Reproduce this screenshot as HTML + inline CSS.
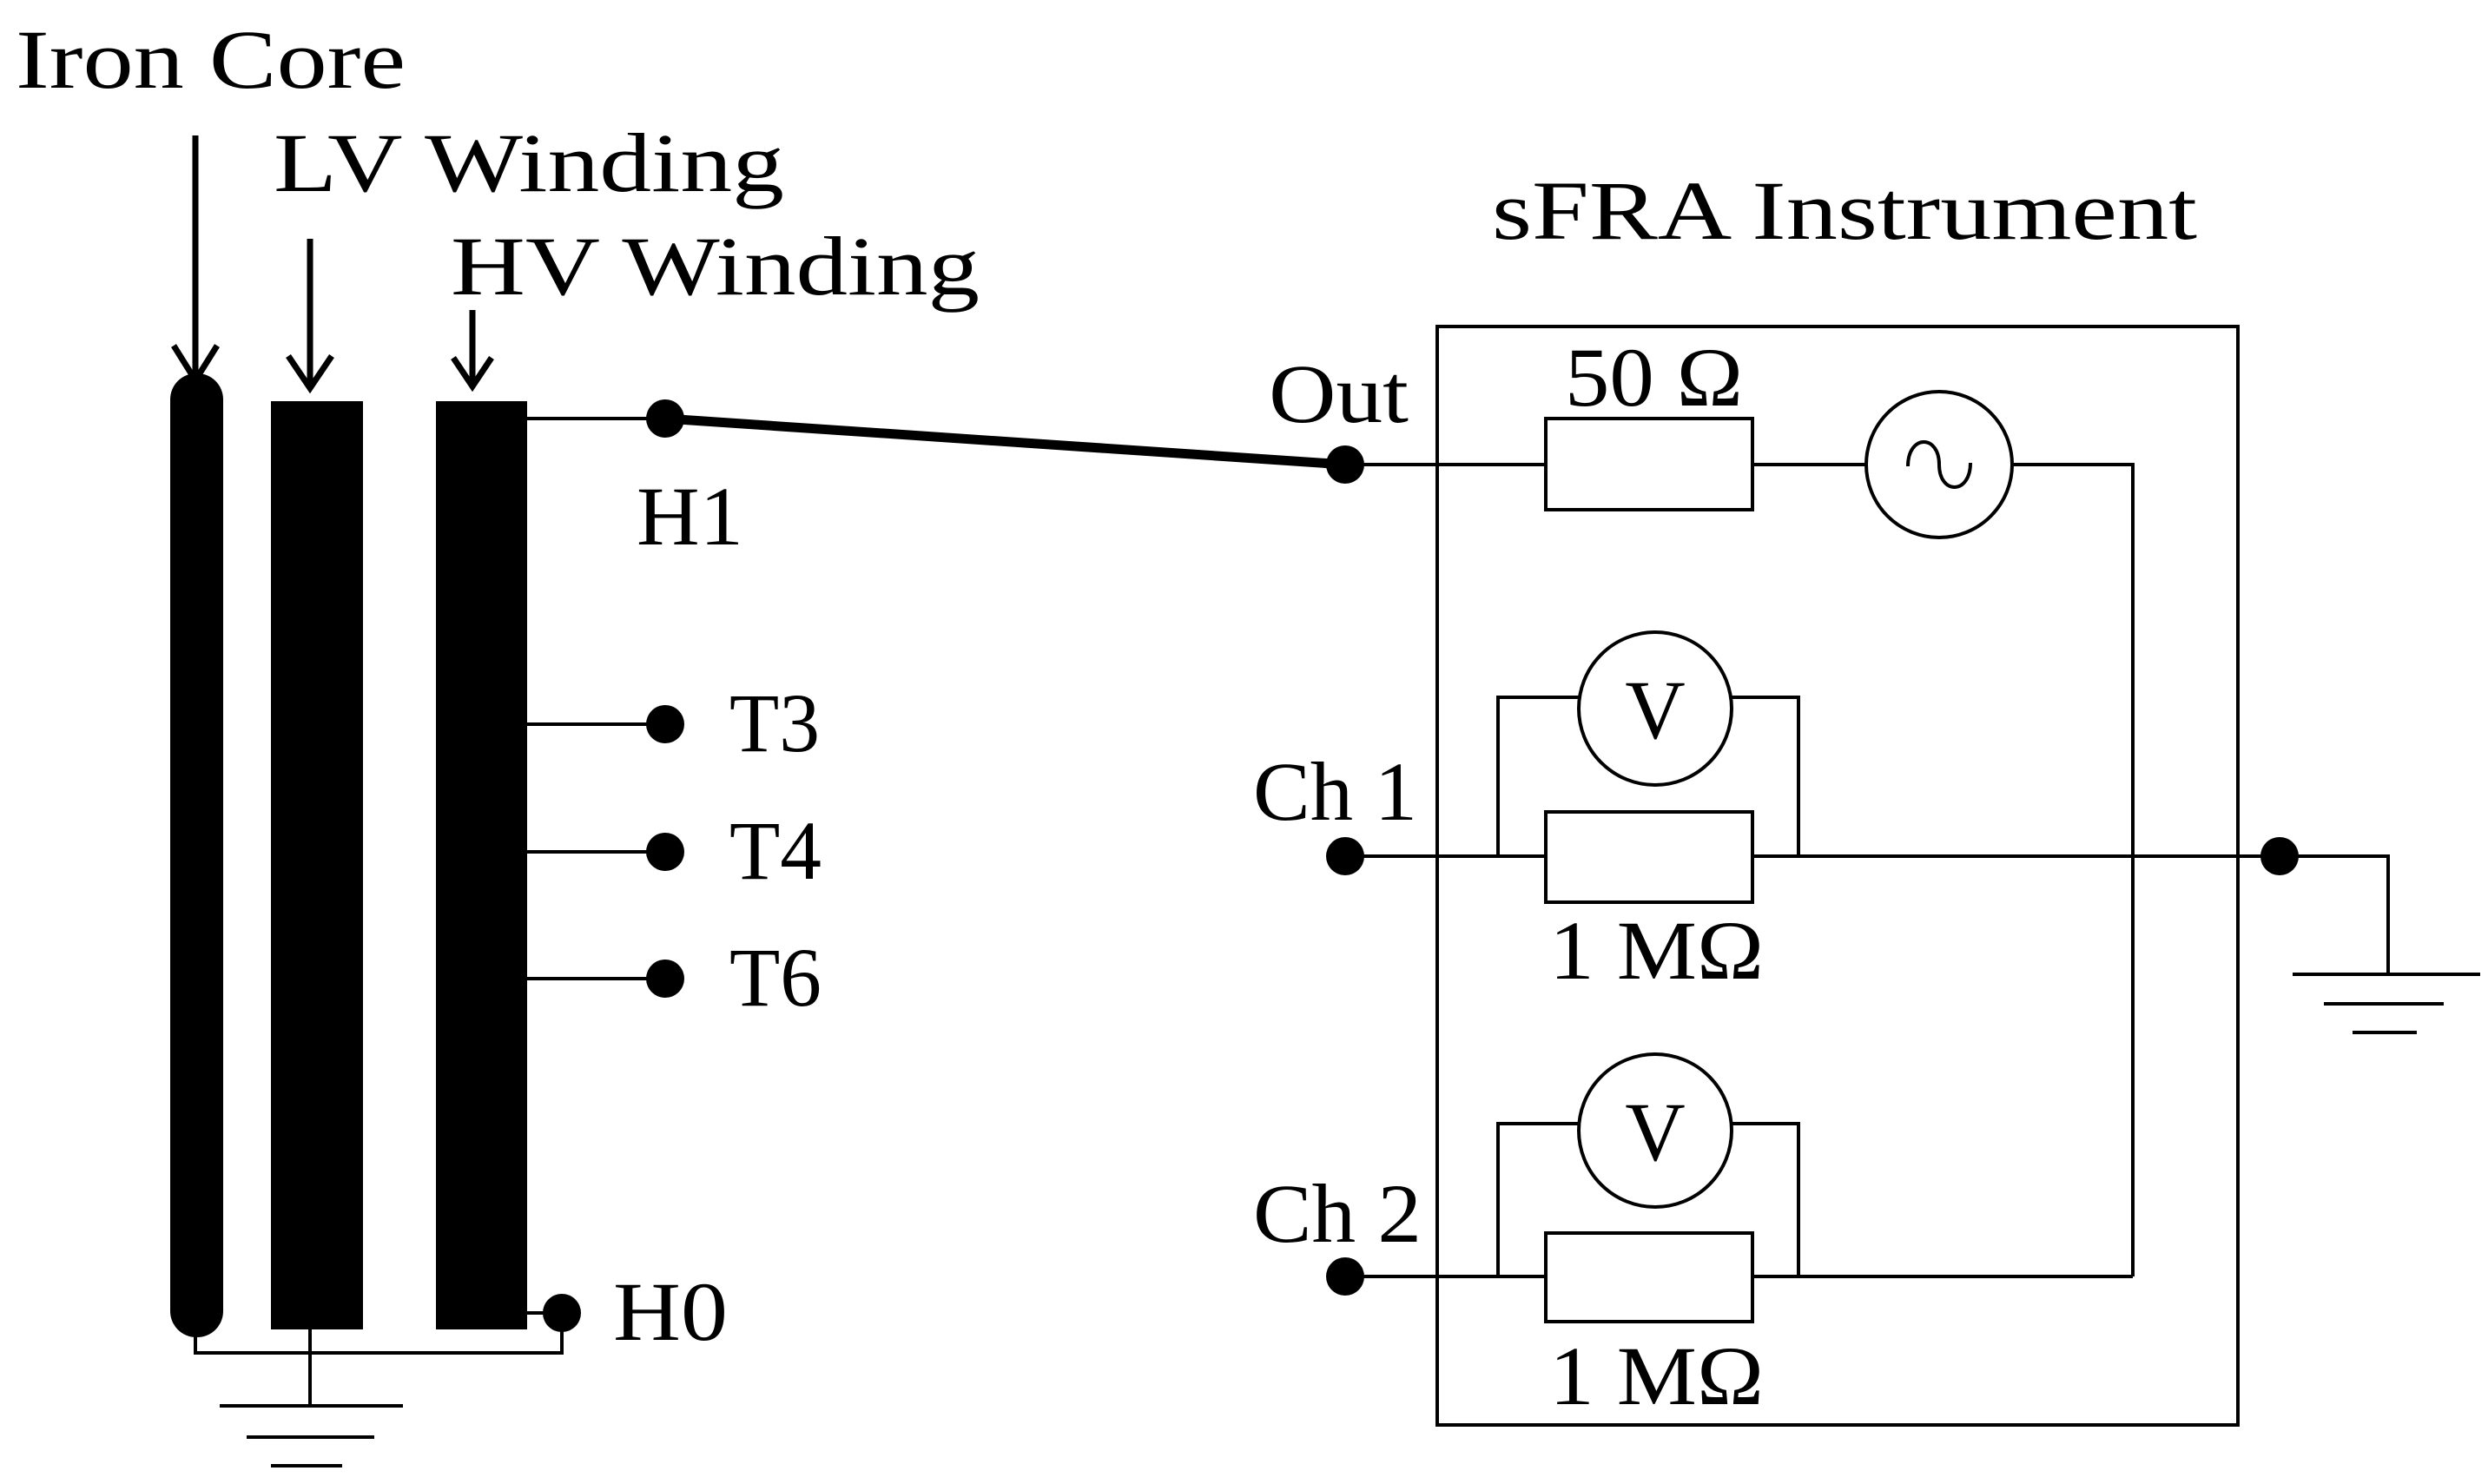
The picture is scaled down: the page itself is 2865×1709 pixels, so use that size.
<!DOCTYPE html>
<html><head><style>html,body{margin:0;padding:0;background:#fff}svg{display:block}</style></head><body>
<svg width="2865" height="1709" viewBox="0 0 2865 1709" xmlns="http://www.w3.org/2000/svg" font-family="Liberation Serif, serif" fill="#000">
<g stroke="#000" stroke-width="4" fill="none">
<line x1="225" y1="156" x2="225" y2="438" stroke-width="7"/>
<polyline points="200,398 225,438 250,398" stroke-width="7"/>
<line x1="357" y1="275" x2="357" y2="447" stroke-width="7"/>
<polyline points="332,410 357,447 382,410" stroke-width="7"/>
<line x1="544" y1="357" x2="544" y2="445" stroke-width="7"/>
<polyline points="522,412 544,445 566,412" stroke-width="7"/>
<line x1="607" y1="482" x2="766" y2="482"/>
<line x1="607" y1="834" x2="766" y2="834"/>
<line x1="607" y1="981" x2="766" y2="981"/>
<line x1="607" y1="1127" x2="766" y2="1127"/>
<line x1="607" y1="1512" x2="647" y2="1512"/>
<polyline points="225,1530 225,1558 647,1558 647,1512"/>
<line x1="357" y1="1531" x2="357" y2="1619"/>
<line x1="253" y1="1619" x2="464" y2="1619"/>
<line x1="284" y1="1655" x2="431" y2="1655"/>
<line x1="312" y1="1688" x2="394" y2="1688"/>
<line x1="766" y1="482" x2="1549" y2="535" stroke-width="11"/>
<rect x="1655" y="376" width="922" height="1265"/>
<line x1="1549" y1="535" x2="1780" y2="535"/>
<rect x="1780" y="482" width="238" height="105"/>
<line x1="2018" y1="535" x2="2149" y2="535"/>
<circle cx="2233" cy="535" r="84"/>
<path d="M2197,537 C2197,500 2233,500 2233,535 C2233,570 2269,570 2269,533"/>
<polyline points="2317,535 2456,535 2456,1470"/>
<line x1="1549" y1="986" x2="1780" y2="986"/>
<rect x="1780" y="935" width="238" height="104"/>
<line x1="2018" y1="986" x2="2625" y2="986"/>
<polyline points="1725,986 1725,803 1818,803"/>
<polyline points="1994,803 2071,803 2071,986"/>
<circle cx="1906" cy="816" r="88"/>
<polyline points="2625,986 2750,986 2750,1122"/>
<line x1="2640" y1="1122" x2="2856" y2="1122"/>
<line x1="2676" y1="1156" x2="2814" y2="1156"/>
<line x1="2709" y1="1189" x2="2783" y2="1189"/>
<line x1="1549" y1="1470" x2="1780" y2="1470"/>
<rect x="1780" y="1420" width="238" height="102"/>
<line x1="2018" y1="1470" x2="2456" y2="1470"/>
<polyline points="1725,1470 1725,1294 1818,1294"/>
<polyline points="1994,1294 2071,1294 2071,1470"/>
<circle cx="1906" cy="1302" r="88"/>
</g>
<rect x="196" y="430" width="61" height="1110" rx="30" ry="30"/>
<rect x="312" y="462" width="106" height="1069"/>
<rect x="502" y="462" width="105" height="1069"/>
<circle cx="766" cy="482" r="22"/>
<circle cx="766" cy="834" r="22"/>
<circle cx="766" cy="981" r="22"/>
<circle cx="766" cy="1127" r="22"/>
<circle cx="647" cy="1512" r="22"/>
<circle cx="1549" cy="535" r="22"/>
<circle cx="1549" cy="986" r="22"/>
<circle cx="1549" cy="1470" r="22"/>
<circle cx="2625" cy="986" r="22"/>
<g font-size="96">
<text x="18" y="101" textLength="449" lengthAdjust="spacingAndGlyphs">Iron Core</text>
<text x="315" y="220" textLength="588" lengthAdjust="spacingAndGlyphs">LV Winding</text>
<text x="519" y="339" textLength="609" lengthAdjust="spacingAndGlyphs">HV Winding</text>
<text x="1718" y="275" textLength="812" lengthAdjust="spacingAndGlyphs">sFRA Instrument</text>
<text x="733" y="627" textLength="123" lengthAdjust="spacingAndGlyphs">H1</text>
<text x="840" y="865" textLength="104" lengthAdjust="spacingAndGlyphs">T3</text>
<text x="840" y="1012" textLength="106" lengthAdjust="spacingAndGlyphs">T4</text>
<text x="840" y="1158" textLength="106" lengthAdjust="spacingAndGlyphs">T6</text>
<text x="706" y="1543" textLength="132" lengthAdjust="spacingAndGlyphs">H0</text>
<text x="1461" y="486" textLength="161" lengthAdjust="spacingAndGlyphs">Out</text>
<text x="1443" y="944" textLength="189" lengthAdjust="spacingAndGlyphs">Ch 1</text>
<text x="1443" y="1430" textLength="194" lengthAdjust="spacingAndGlyphs">Ch 2</text>
<text x="1802" y="467" textLength="205" lengthAdjust="spacingAndGlyphs">50 Ω</text>
<text x="1784" y="1127" textLength="247" lengthAdjust="spacingAndGlyphs">1 MΩ</text>
<text x="1784" y="1617" textLength="247" lengthAdjust="spacingAndGlyphs">1 MΩ</text>
<text x="1906" y="850" text-anchor="middle">V</text>
<text x="1906" y="1336" text-anchor="middle">V</text>
</g>
</svg>
</body></html>
